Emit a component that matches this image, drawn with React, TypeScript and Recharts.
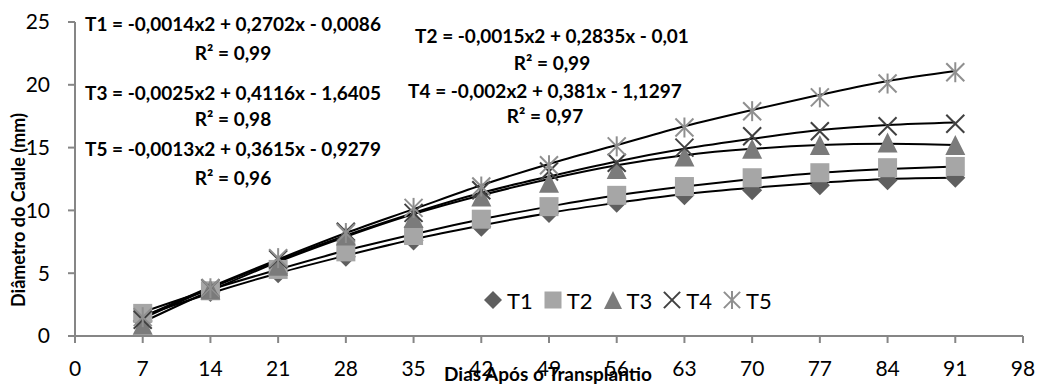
import React from 'react';
import { ComposedChart, Line, XAxis, YAxis } from 'recharts';

// dias após o transplantio
const days = [7, 14, 21, 28, 35, 42, 49, 56, 63, 70, 77, 84, 91];

// diâmetro do caule observado (mm)
const t1 = [1.2, 3.5, 5.0, 6.3, 7.6, 8.7, 9.8, 10.6, 11.2, 11.6, 12.0, 12.4, 12.6];
const t2 = [1.8, 3.6, 5.3, 6.7, 8.0, 9.3, 10.3, 11.2, 11.9, 12.6, 13.0, 13.4, 13.5];
const t3 = [0.9, 3.7, 5.6, 8.0, 9.4, 11.1, 12.2, 13.3, 14.3, 14.9, 15.2, 15.4, 15.2];
const t4 = [1.3, 3.8, 6.1, 8.3, 9.8, 11.6, 13.1, 13.8, 15.0, 15.9, 16.3, 16.7, 16.9];
const t5 = [1.5, 3.8, 6.2, 8.2, 10.2, 11.9, 13.6, 15.1, 16.6, 17.9, 19.0, 20.1, 21.0];

// linhas de tendência
const t1Trend = [1.6, 3.4, 5.0, 6.4, 7.7, 8.8, 9.8, 10.6, 11.3, 11.8, 12.2, 12.5, 12.6];
const t2Trend = [1.9, 3.7, 5.3, 6.8, 8.1, 9.3, 10.3, 11.2, 11.9, 12.5, 13.0, 13.3, 13.5];
const t3Trend = [1.1, 3.6, 5.9, 7.9, 9.7, 11.2, 12.5, 13.6, 14.4, 14.9, 15.2, 15.3, 15.2];
const t4Trend = [1.4, 3.8, 6.0, 8.0, 9.8, 11.4, 12.7, 13.9, 14.9, 15.7, 16.4, 16.8, 17.0];
const t5Trend = [1.5, 3.9, 6.1, 8.2, 10.1, 12.0, 13.7, 15.2, 16.7, 18.0, 19.2, 20.3, 21.1];

const xTicks = [0, 7, 14, 21, 28, 35, 42, 49, 56, 63, 70, 77, 84, 91, 98];
const yTicks = [0, 5, 10, 15, 20, 25];

const equations = [
  { eq: 'T1 = -0,0014x2 + 0,2702x - 0,0086', r2: 'R² = 0,99', x: 233, y: 23, ry: 52 },
  { eq: 'T3 = -0,0025x2 + 0,4116x - 1,6405', r2: 'R² = 0,98', x: 233, y: 92, ry: 118 },
  { eq: 'T5 = -0,0013x2 + 0,3615x - 0,9279', r2: 'R² = 0,96', x: 233, y: 148, ry: 177 },
  { eq: 'T2 = -0,0015x2 + 0,2835x - 0,01', r2: 'R² = 0,99', x: 552, y: 35, ry: 62 },
  { eq: 'T4 = -0,002x2 + 0,381x - 1,1297', r2: 'R² = 0,97', x: 545, y: 90, ry: 115 },
];

const data = days.map((d, i) => ({
  x: d,
  t1: t1[i], t2: t2[i], t3: t3[i], t4: t4[i], t5: t5[i],
  t1Trend: t1Trend[i], t2Trend: t2Trend[i], t3Trend: t3Trend[i],
  t4Trend: t4Trend[i], t5Trend: t5Trend[i],
}));

const FONT = 'Lato, "Open Sans", sans-serif';
const AXIS = '#868686';

type Kind = 'diamond' | 'square' | 'triangle' | 'x' | 'star';

const Marker = ({ kind, cx, cy, s = 10 }: { kind: Kind; cx: number; cy: number; s?: number }) => {
  if (kind === 'diamond')
    return <polygon points={`${cx},${cy - s} ${cx + s},${cy} ${cx},${cy + s} ${cx - s},${cy}`} fill="#5f5f5f" />;
  if (kind === 'square')
    return <rect x={cx - s + 0.5} y={cy - s + 0.5} width={2 * s - 1} height={2 * s - 1} fill="#a6a6a6" />;
  if (kind === 'triangle')
    return <polygon points={`${cx},${cy - s} ${cx + s},${cy + s} ${cx - s},${cy + s}`} fill="#7b7b7b" />;
  const k = s * 0.9;
  return (
    <g stroke={kind === 'x' ? '#404040' : '#8f8f8f'} strokeWidth={2}>
      <line x1={cx - k} y1={cy - k} x2={cx + k} y2={cy + k} />
      <line x1={cx - k} y1={cy + k} x2={cx + k} y2={cy - k} />
      {kind === 'star' && <line x1={cx} y1={cy - s} x2={cx} y2={cy + s} />}
    </g>
  );
};

const markerDot = (kind: Kind) => (props: any) => (
  <Marker key={`${kind}-${props.index}`} kind={kind} cx={props.cx} cy={props.cy} />
);

const series: { key: string; kind: Kind; name: string }[] = [
  { key: 't1', kind: 'diamond', name: 'T1' },
  { key: 't2', kind: 'square', name: 'T2' },
  { key: 't3', kind: 'triangle', name: 'T3' },
  { key: 't4', kind: 'x', name: 'T4' },
  { key: 't5', kind: 'star', name: 'T5' },
];

const boldText = { position: 'absolute' as const, whiteSpace: 'nowrap' as const, fontWeight: 700, fontSize: 19 };

export default function App() {
  return (
    <div style={{ position: 'absolute', left: 0, top: 0, width: 1037, height: 385, background: '#fff', fontFamily: FONT }}>
      <ComposedChart width={1037} height={385} data={data} margin={{ top: 22, right: 14, bottom: 19, left: 0 }}>
        <XAxis
          dataKey="x"
          type="number"
          domain={[0, 98]}
          ticks={xTicks}
          interval={0}
          stroke={AXIS}
          strokeWidth={2}
          tickSize={7}
          tickMargin={18}
          height={30}
          tick={{ fill: '#000', fontSize: 21, fontFamily: FONT }}
        />
        <YAxis
          type="number"
          domain={[0, 25]}
          ticks={yTicks}
          interval={0}
          stroke={AXIS}
          strokeWidth={2}
          tickSize={7}
          tickMargin={18}
          width={75}
          tick={{ fill: '#000', fontSize: 21, fontFamily: FONT }}
        />
        {series.map((s) => (
          <Line
            key={s.key}
            dataKey={s.key}
            stroke="none"
            dot={markerDot(s.kind)}
            activeDot={false}
            isAnimationActive={false}
          />
        ))}
        {series.map((s) => (
          <Line
            key={s.key + 'Trend'}
            dataKey={s.key + 'Trend'}
            type="monotone"
            stroke="#000"
            strokeWidth={2}
            dot={false}
            activeDot={false}
            isAnimationActive={false}
          />
        ))}
      </ComposedChart>

      {equations.map((e) => (
        <React.Fragment key={e.eq}>
          <div style={{ ...boldText, left: e.x, top: e.y, transform: 'translate(-50%, -50%)' }}>{e.eq}</div>
          <div style={{ ...boldText, left: e.x, top: e.ry, transform: 'translate(-50%, -50%)' }}>{e.r2}</div>
        </React.Fragment>
      ))}

      <div style={{ ...boldText, fontSize: 18, left: 18, top: 210, transform: 'translate(-50%, -50%) rotate(-90deg)' }}>
        Diâmetro do Caule (mm)
      </div>
      <div style={{ ...boldText, left: 548, top: 373, transform: 'translate(-50%, -50%)' }}>
        Dias Após o Transplantio
      </div>

      <div style={{ position: 'absolute', left: 483, top: 288, height: 24, display: 'flex', alignItems: 'center', fontSize: 22 }}>
        {series.map((s) => (
          <div key={s.name} style={{ display: 'flex', alignItems: 'center', marginRight: 10 }}>
            <svg width={20} height={20}>
              <Marker kind={s.kind} cx={10} cy={10} s={9} />
            </svg>
            <span style={{ marginLeft: 4 }}>{s.name}</span>
          </div>
        ))}
      </div>
    </div>
  );
}
